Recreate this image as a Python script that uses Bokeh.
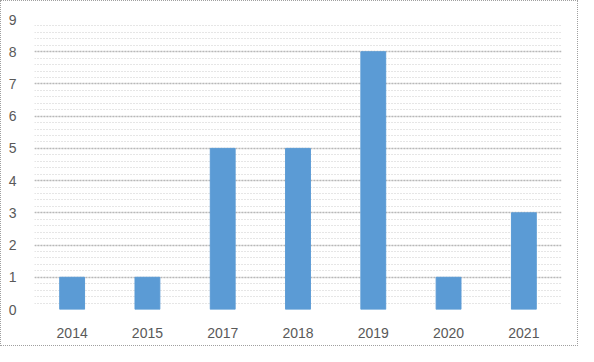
from bokeh.plotting import figure
from bokeh.models import Range1d, SingleIntervalTicker
from bokeh.embed import file_html
from bokeh.resources import INLINE

years = ["2014", "2015", "2017", "2018", "2019", "2020", "2021"]
counts = [1, 1, 5, 5, 8, 1, 3]

p = figure(x_range=years, y_range=Range1d(0, 9), width=578, height=346,
           output_backend="svg", toolbar_location=None,
           min_border_left=33, min_border_right=18, min_border_top=18, min_border_bottom=38)
p.styles = {"border": "1px dotted #a0a0a0"}

p.vbar(x=years, top=counts, width=0.33, fill_color="#5b9bd5", line_color="#5b9bd5", line_width=1)

p.outline_line_color = None
p.background_fill_color = "white"
p.border_fill_color = "white"

p.yaxis.ticker = SingleIntervalTicker(interval=1, num_minor_ticks=5)
p.ygrid.grid_line_color = "#b8b8b8"
p.ygrid.grid_line_dash = "2 1"
p.ygrid.grid_line_width = 1.5
p.ygrid.minor_grid_line_color = "#cccccc"
p.ygrid.minor_grid_line_dash = "1 2"
p.ygrid.minor_grid_line_width = 1
p.xgrid.grid_line_color = None

for ax in (p.xaxis, p.yaxis):
    ax.axis_line_color = None
    ax.major_tick_line_color = None
    ax.minor_tick_line_color = None
    ax.major_label_text_color = "#595959"
    ax.major_label_text_font = "Liberation Sans"
    ax.major_label_text_font_size = "14px"
p.yaxis.major_label_standoff = 12
p.xaxis.major_label_standoff = 12

open("out.html", "w").write(file_html(p, INLINE))
